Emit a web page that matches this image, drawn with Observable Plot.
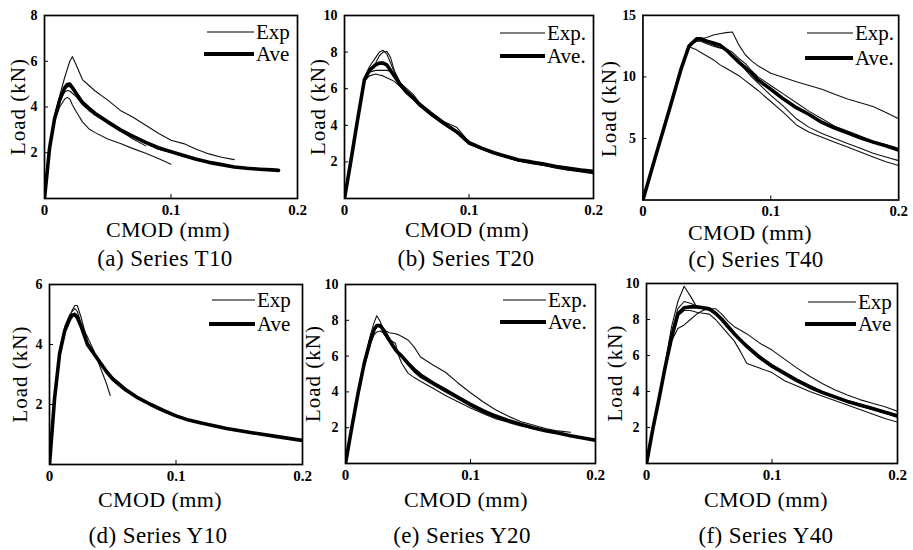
<!DOCTYPE html>
<html><head><meta charset="utf-8">
<script src="https://cdn.jsdelivr.net/npm/d3@7"></script>
<script src="https://cdn.jsdelivr.net/npm/@observablehq/plot@0.6"></script>
<style>
html,body{margin:0;padding:0;background:#fff;}
#root{position:relative;width:913px;height:550px;overflow:hidden;background:#fff;font-family:"Liberation Serif","Times New Roman",Times,"Nimbus Roman","DejaVu Serif","Noto Serif",serif;}
.panel{position:absolute;}
#overlay{position:absolute;left:0;top:0;pointer-events:none;}
svg text{font-family:"Liberation Serif","Times New Roman",Times,"Nimbus Roman","DejaVu Serif","Noto Serif",serif !important;}
</style></head><body><div id="root"></div>
<script>
// ================= DATA =================
const x_label = "CMOD (mm)";
const y_label = "Load (kN)";
const x_ticks = [0, 0.1, 0.2];

// (a) Series T10
const t10_cmod = [0,0.004,0.008,0.012,0.016,0.018,0.020,0.022,0.025,0.03,0.035,0.04,0.05,0.06,0.07,0.08,0.09,0.1,0.11,0.12,0.13,0.14,0.15,0.16,0.17,0.18,0.185];
const t10_ave  = [0,2.2,3.5,4.3,4.85,4.98,5.0,4.85,4.6,4.2,3.95,3.72,3.35,3.0,2.72,2.45,2.22,2.05,1.88,1.72,1.58,1.48,1.38,1.32,1.28,1.25,1.23];
const t10_exp1 = [0,2.3,3.6,4.5,5.3,5.65,6.0,6.2,5.85,5.2,4.95,4.7,4.3,3.85,3.55,3.2,2.85,2.55,2.4,2.15,1.95,1.8,1.7,null,null,null,null];
const t10_exp2 = [0,2.2,3.4,4.0,4.35,4.42,4.35,4.1,3.8,3.35,3.05,2.88,2.6,2.4,2.18,1.98,1.75,1.5,null,null,null,null,null,null,null,null,null];
const t10_exp3 = [0,2.1,3.4,4.25,4.75,4.88,4.9,4.78,4.55,4.2,3.9,3.65,3.3,2.95,2.7,2.4,2.15,2.0,1.84,1.7,1.58,1.45,1.36,1.3,1.26,1.22,1.2];
const t10_exp4 = [0,2.2,3.5,4.3,4.65,4.72,4.7,4.6,4.45,4.1,3.85,3.65,3.3,2.95,2.6,2.3,null,null,null,null,null,null,null,null,null,null,null];
const t10_yticks = [2,4,6,8];

// (b) Series T20
const t20_cmod = [0,0.005,0.01,0.016,0.02,0.025,0.028,0.031,0.034,0.037,0.04,0.045,0.05,0.055,0.06,0.07,0.08,0.09,0.1,0.11,0.12,0.13,0.14,0.15,0.16,0.17,0.18,0.19,0.2];
const t20_ave  = [0,2.0,4.1,6.5,7.0,7.3,7.4,7.4,7.3,7.0,6.7,6.2,5.8,5.5,5.15,4.6,4.1,3.65,3.05,2.75,2.5,2.3,2.1,2.0,1.88,1.75,1.65,1.55,1.48];
const t20_exp1 = [0,2.0,4.1,6.6,7.2,7.7,8.0,8.1,7.9,7.4,6.9,6.3,5.9,5.6,5.2,4.65,4.15,3.7,3.05,2.8,2.5,2.3,2.1,1.95,1.85,1.7,1.6,1.5,1.4];
const t20_exp2 = [0,2.0,4.0,6.4,6.9,7.4,7.8,8.0,8.05,7.7,7.0,6.3,6.0,5.7,5.25,4.7,4.2,3.9,3.1,2.8,2.5,2.25,2.05,1.95,1.8,1.7,1.55,1.45,1.35];
const t20_exp3 = [0,2.0,4.1,6.5,6.9,7.0,7.0,7.0,7.0,6.95,6.7,6.2,5.8,5.5,5.1,4.55,4.05,3.6,3.0,2.7,2.45,2.25,2.05,1.95,1.85,1.7,1.6,1.5,1.4];
const t20_exp4 = [0,2.1,4.2,6.4,6.7,6.8,6.75,6.7,6.6,6.5,6.4,6.1,5.75,5.45,5.1,4.5,4.05,3.6,2.95,2.7,2.45,2.25,2.05,1.9,1.8,1.65,1.55,1.5,1.4];
const t20_yticks = [2,4,6,8,10];

// (c) Series T40
const t40_cmod = [0,0.01,0.02,0.03,0.036,0.042,0.045,0.05,0.055,0.06,0.065,0.07,0.075,0.08,0.085,0.09,0.1,0.11,0.12,0.13,0.14,0.15,0.16,0.17,0.18,0.19,0.2];
const t40_ave  = [0,3.6,7.1,10.7,12.5,13.1,13.1,12.9,12.75,12.6,12.2,11.7,11.2,10.75,10.3,9.75,9.0,8.2,7.5,6.95,6.3,5.85,5.45,5.05,4.7,4.4,4.05];
const t40_exp1 = [0,3.6,7.1,10.7,12.5,13.0,13.1,13.2,13.4,13.5,13.6,13.65,12.6,11.8,11.3,10.9,10.3,9.95,9.6,9.3,9.0,8.6,8.2,7.9,7.6,7.1,6.6];
const t40_exp2 = [0,3.6,7.1,10.7,12.45,12.2,12.0,11.7,11.4,11.0,10.7,10.4,10.1,9.7,9.3,8.9,8.0,7.1,6.1,5.5,5.1,4.7,4.3,3.9,3.5,3.1,2.8];
const t40_exp3 = [0,3.6,7.1,10.7,12.5,12.9,12.9,12.7,12.5,12.35,12.2,11.7,11.2,10.6,10.0,9.5,8.5,7.6,6.6,5.9,5.4,5.0,4.6,4.2,3.8,3.5,3.2];
const t40_exp4 = [0,3.6,7.1,10.7,12.6,12.9,13.0,12.8,12.6,12.4,12.3,12.0,11.5,11.1,10.5,10.0,9.3,8.6,7.9,7.2,6.6,6.0,5.6,5.2,4.8,4.5,4.2];
const t40_yticks = [5,10,15];

// (d) Series Y10
const y10_cmod = [0,0.004,0.008,0.012,0.016,0.018,0.02,0.022,0.025,0.03,0.035,0.04,0.045,0.048,0.05,0.06,0.07,0.08,0.09,0.1,0.11,0.12,0.14,0.16,0.18,0.2];
const y10_ave  = [0,2.2,3.7,4.45,4.85,4.97,5.0,4.9,4.6,4.0,3.7,3.4,3.1,2.95,2.85,2.5,2.22,2.0,1.8,1.62,1.48,1.38,1.2,1.06,0.93,0.8];
const y10_exp1 = [0,2.2,3.8,4.6,5.0,5.1,5.2,5.1,4.7,4.25,3.8,3.25,2.7,2.3,null,null,null,null,null,null,null,null,null,null,null,null];
const y10_exp2 = [0,2.1,3.6,4.4,4.9,5.15,5.3,5.3,4.9,4.1,3.75,3.45,3.15,3.0,2.9,2.52,2.25,2.02,1.82,1.65,1.5,1.4,1.2,1.07,0.94,0.82];
const y10_exp3 = [0,2.2,3.7,4.5,4.9,5.0,5.05,4.95,4.6,3.95,3.65,3.35,3.05,2.9,2.8,2.45,2.2,1.97,1.78,1.6,1.46,1.37,1.19,1.05,0.92,0.8];
const y10_yticks = [2,4,6];

// (e) Series Y20
const y20_cmod = [0,0.005,0.01,0.015,0.02,0.023,0.025,0.028,0.03,0.035,0.04,0.042,0.045,0.05,0.055,0.06,0.07,0.08,0.09,0.1,0.11,0.12,0.13,0.14,0.15,0.16,0.17,0.18,0.19,0.2];
const y20_ave  = [0,2.0,3.9,5.6,6.9,7.5,7.7,7.7,7.5,6.9,6.35,6.2,6.0,5.6,5.25,4.95,4.5,4.1,3.7,3.3,2.95,2.65,2.4,2.2,2.0,1.83,1.7,1.55,1.42,1.3];
const y20_exp1 = [0,2.0,4.0,5.7,7.2,7.9,8.25,7.9,7.5,7.3,7.25,7.2,7.1,6.9,6.5,5.95,5.5,5.1,4.5,3.95,3.45,3.0,2.65,2.35,2.15,1.95,1.82,1.75,null,null];
const y20_exp2 = [0,1.9,3.8,5.4,6.7,7.2,7.35,7.4,7.3,6.8,6.3,6.1,5.6,5.05,4.8,4.6,4.2,3.8,3.45,3.1,2.8,2.5,2.3,2.1,1.95,1.8,1.68,1.55,1.42,1.3];
const y20_exp3 = [0,2.0,3.9,5.6,6.9,7.6,7.75,7.6,7.4,6.95,6.7,6.15,5.95,5.5,5.1,4.8,4.4,4.0,3.6,3.2,2.85,2.55,2.35,2.15,1.97,1.8,1.68,1.55,1.42,1.3];
const y20_yticks = [2,4,6,8,10];

// (f) Series Y40
const y40_cmod = [0,0.005,0.01,0.015,0.02,0.025,0.03,0.035,0.04,0.045,0.05,0.055,0.06,0.065,0.07,0.075,0.08,0.09,0.1,0.11,0.12,0.13,0.14,0.15,0.16,0.17,0.18,0.19,0.2];
const y40_ave  = [0,1.9,3.6,5.4,7.0,8.3,8.65,8.7,8.7,8.65,8.6,8.35,8.0,7.6,7.2,6.85,6.5,5.9,5.4,5.0,4.6,4.25,3.95,3.7,3.45,3.25,3.05,2.85,2.65];
const y40_exp1 = [0,1.9,3.7,5.6,7.6,9.0,9.85,9.3,8.7,8.6,8.55,8.4,8.1,7.7,7.3,6.9,6.6,6.0,5.5,5.1,4.7,4.35,4.0,3.75,3.5,3.3,3.1,2.85,2.6];
const y40_exp2 = [0,1.9,3.6,5.5,7.3,8.6,9.0,8.9,8.75,8.6,8.5,8.3,8.0,7.6,7.2,6.85,6.5,5.85,5.35,5.0,4.6,4.2,3.9,3.65,3.4,3.2,3.0,2.8,2.55];
const y40_exp3 = [0,1.9,3.6,5.3,6.8,7.5,7.7,8.0,8.3,8.5,8.6,8.6,8.3,7.9,7.6,7.4,7.2,6.7,6.3,5.8,5.3,4.85,4.45,4.1,3.8,3.55,3.35,3.15,2.9];
const y40_exp4 = [0,1.9,3.6,5.4,7.1,8.2,8.5,8.5,8.4,8.35,8.3,8.0,7.6,7.2,6.8,6.2,5.55,5.3,5.05,4.6,4.3,4.0,3.75,3.5,3.25,3.0,2.75,2.5,2.3];
const y40_yticks = [2,4,6,8,10];

const captions = ["(a) Series T10","(b) Series T20","(c) Series T40","(d) Series Y10","(e) Series Y20","(f) Series Y40"];
const legend_exp = ["Exp","Exp.","Exp.","Exp","Exp.","Exp"];
const legend_ave = ["Ave","Ave.","Ave.","Ave","Ave.","Ave"];

// ================= PANELS =================
const panels = [
  {cmod:t10_cmod, ave:t10_ave, exps:[t10_exp1,t10_exp2,t10_exp3,t10_exp4], yticks:t10_yticks},
  {cmod:t20_cmod, ave:t20_ave, exps:[t20_exp1,t20_exp2,t20_exp3,t20_exp4], yticks:t20_yticks},
  {cmod:t40_cmod, ave:t40_ave, exps:[t40_exp1,t40_exp2,t40_exp3,t40_exp4], yticks:t40_yticks},
  {cmod:y10_cmod, ave:y10_ave, exps:[y10_exp1,y10_exp2,y10_exp3], yticks:y10_yticks},
  {cmod:y20_cmod, ave:y20_ave, exps:[y20_exp1,y20_exp2,y20_exp3], yticks:y20_yticks},
  {cmod:y40_cmod, ave:y40_ave, exps:[y40_exp1,y40_exp2,y40_exp3,y40_exp4], yticks:y40_yticks}
];

// layout (pixel placement only)
const layout = [
  {L:44, R:297, T:15, B:198, cx:168, cy:230, capx:165, capy:258, lx:18,  ex:[207,254,32],  av:[204,254,54]},
  {L:344,R:593, T:15, B:198, cx:467, cy:230, capx:466, capy:258, lx:318, ex:[500,545,33],  av:[500,545,56]},
  {L:643,R:902, T:15, B:202, cx:750, cy:233, capx:756, capy:259, lx:609, ex:[807,853,33],  av:[805,853,58]},
  {L:49, R:302, T:284,B:464, cx:160, cy:500, capx:158, capy:535, lx:20,  ex:[212,255,300], av:[209,255,324]},
  {L:345,R:595, T:284,B:463, cx:466, cy:500, capx:462, capy:535, lx:313, ex:[503,546,300], av:[500,546,322]},
  {L:646,R:897, T:283,B:463, cx:766, cy:500, capx:766, capy:535, lx:615, ex:[808,856,302], av:[805,856,324]}
];

const FONT = "Liberation Serif, Times New Roman, Times, Nimbus Roman, DejaVu Serif, Noto Serif, serif";
const root = document.getElementById("root");
const mL = 45, mR = 15, mT = 10, mB = 25;

panels.forEach((p, k) => {
  const g = layout[k];
  const ymax = p.yticks[p.yticks.length - 1];
  const rows = arr => p.cmod.map((c, i) => ({x: c, y: arr[i]}));
  const marks = [];
  p.exps.forEach(e => marks.push(Plot.line(rows(e), {x: "x", y: "y", stroke: "#111", strokeWidth: 1.1, clip: true})));
  marks.push(Plot.line(rows(p.ave), {x: "x", y: "y", stroke: "#000", strokeWidth: 3.6, clip: true}));
  marks.push(Plot.frame({stroke: "#000", strokeWidth: 1.7}));
  marks.push(Plot.axisX(x_ticks, {anchor: "bottom", tickSize: -4, tickPadding: 10, fontSize: 15, fontWeight: "bold",
    tickFormat: d => d === 0 ? "0" : d3.format(".1f")(d), label: null}));
  marks.push(Plot.axisY(p.yticks, {anchor: "left", tickSize: -4, tickPadding: 11, fontSize: 14, fontWeight: "bold", label: null}));
  const chart = Plot.plot({
    width: (g.R - g.L) + mL + mR,
    height: (g.B - g.T) + mT + mB,
    marginLeft: mL, marginRight: mR, marginTop: mT, marginBottom: mB,
    x: {domain: [0, 0.2]},
    y: {domain: [0, ymax]},
    style: {fontFamily: FONT, background: "transparent", overflow: "visible", color: "#000"},
    marks
  });
  const div = document.createElement("div");
  div.className = "panel";
  div.style.left = (g.L - mL) + "px";
  div.style.top = (g.T - mT) + "px";
  div.appendChild(chart);
  root.appendChild(div);
});

// overlay for labels, captions and legends
const NS = "http://www.w3.org/2000/svg";
const ov = document.createElementNS(NS, "svg");
ov.setAttribute("id", "overlay");
ov.setAttribute("width", 913);
ov.setAttribute("height", 550);
ov.style.fontFamily = FONT;
function txt(s, x, y, size, anchor, extra) {
  const t = document.createElementNS(NS, "text");
  t.setAttribute("x", x); t.setAttribute("y", y);
  t.setAttribute("font-size", size);
  t.setAttribute("text-anchor", anchor || "middle");
  t.setAttribute("fill", "#000");
  if (extra) for (const k in extra) t.setAttribute(k, extra[k]);
  t.textContent = s;
  ov.appendChild(t);
  return t;
}
function seg(x1, x2, y, w) {
  const l = document.createElementNS(NS, "line");
  l.setAttribute("x1", x1); l.setAttribute("x2", x2);
  l.setAttribute("y1", y); l.setAttribute("y2", y);
  l.setAttribute("stroke", "#000"); l.setAttribute("stroke-width", w);
  ov.appendChild(l);
}
layout.forEach((g, k) => {
  txt(x_label, g.cx, g.cy + 7, 22, "middle", {"letter-spacing": "0.4"});
  txt(captions[k], g.capx, g.capy + 7.5, 23, "middle", {"letter-spacing": "0.4"});
  const ycen = (g.T + g.B) / 2;
  txt(y_label, 0, 0, 21, "middle", {transform: `translate(${g.lx + 7},${ycen}) rotate(-90)`, "letter-spacing": "1"});
  seg(g.ex[0], g.ex[1], g.ex[2], 1.1);
  seg(g.av[0], g.av[1], g.av[2], 3.8);
  txt(legend_exp[k], g.ex[1] + 2, g.ex[2] + 7, 21, "start");
  txt(legend_ave[k], g.av[1] + 2, g.av[2] + 7, 21, "start");
});
root.appendChild(ov);
</script></body></html>
